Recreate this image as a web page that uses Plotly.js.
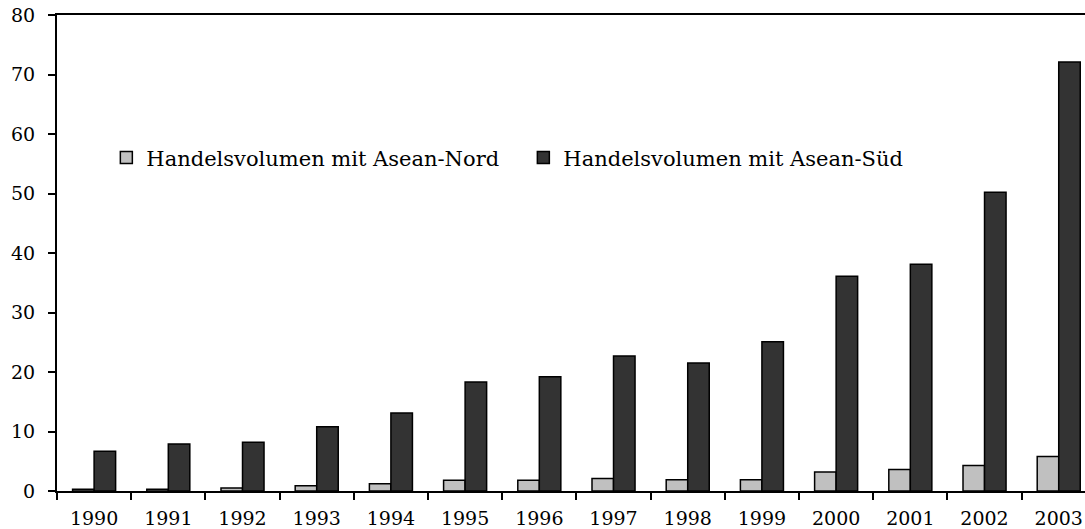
<!DOCTYPE html>
<html><head><meta charset="utf-8">
<script src="https://cdn.plot.ly/plotly-3.0.1.min.js"></script>
<style>body{margin:0;padding:0;background:#fff}</style>
</head><body>
<div id="chart" style="width:1085px;height:529px"></div>
<script>
const years = ['1990','1991','1992','1993','1994','1995','1996','1997','1998','1999','2000','2001','2002','2003'];
const nord = [0.3,0.3,0.5,0.9,1.2,1.8,1.8,2.1,1.9,1.9,3.2,3.6,4.3,5.8];
const sued = [6.7,7.9,8.2,10.8,13.1,18.3,19.2,22.7,21.5,25.1,36.1,38.1,50.2,72.1];
const seriesNames = ['Handelsvolumen mit Asean-Nord','Handelsvolumen mit Asean-Süd'];

const font = {family:'DejaVu Serif, serif', size:19, color:'#000'};
const legendFont = {family:'DejaVu Serif, serif', size:21, color:'#000'};
const data = [
  {type:'bar', x:years, y:nord, name:seriesNames[0],
   marker:{color:'#c0c0c0', line:{color:'#000', width:1.5}}},
  {type:'bar', x:years, y:sued, name:seriesNames[1],
   marker:{color:'#333333', line:{color:'#000', width:1.5}}}
];
const layout = {
  width:1085, height:529,
  margin:{l:57, r:0, t:15, b:38},
  paper_bgcolor:'#fff', plot_bgcolor:'#fff',
  font:font,
  barmode:'group', bargap:0.42, bargroupgap:0,
  showlegend:true,
  legend:{orientation:'h', x:0.048, y:0.70, xanchor:'left', yanchor:'middle',
          font:legendFont, bgcolor:'rgba(0,0,0,0)', traceorder:'normal', itemwidth:30,
          entrywidth:372, entrywidthmode:'pixels'},
  xaxis:{type:'category', range:[-0.5, 13.354], showline:true, linecolor:'#000', linewidth:2,
         mirror:true, ticks:'outside', tickson:'boundaries', ticklen:7, tickwidth:2, tickcolor:'#000',
         showgrid:false, zeroline:false, tickfont:font, ticklabelstandoff:9, fixedrange:true},
  yaxis:{range:[0,80], dtick:10, showline:true, linecolor:'#000', linewidth:2,
         ticks:'outside', ticklen:7, tickwidth:2, tickcolor:'#000',
         showgrid:false, zeroline:false, tickfont:font, ticklabelstandoff:9}
};
Plotly.newPlot('chart', data, layout, {staticPlot:true});
</script>
</body></html>
